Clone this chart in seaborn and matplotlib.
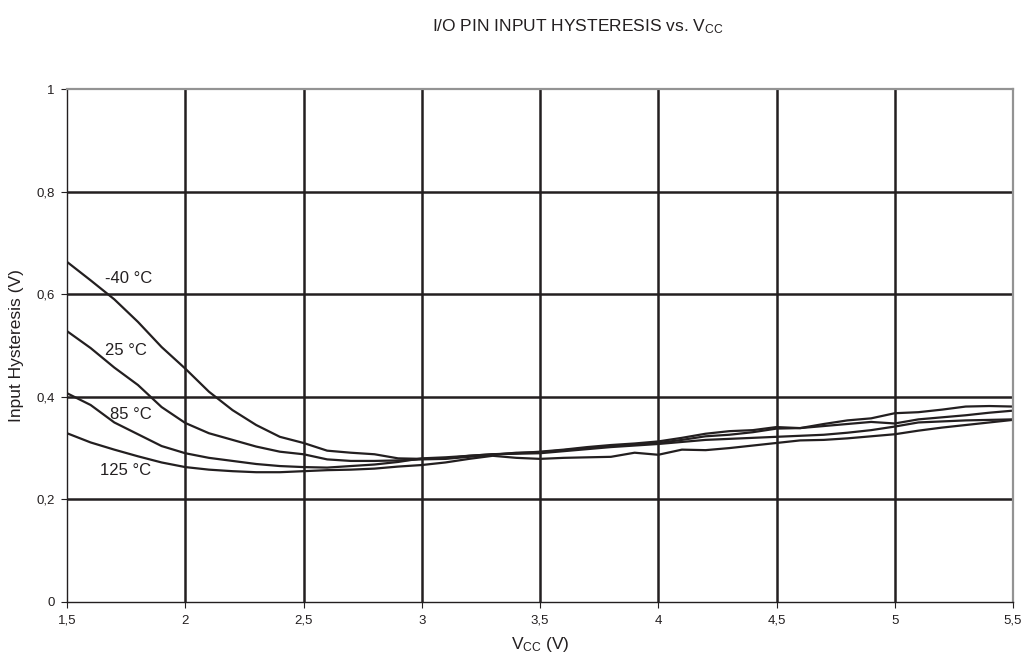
import numpy as np
import pandas as pd
import seaborn as sns
import matplotlib
matplotlib.use("Agg")
import matplotlib.pyplot as plt
from matplotlib.ticker import FuncFormatter

# supply voltage grid (V)
vcc = [1.5, 1.6, 1.7, 1.8, 1.9, 2.0, 2.1, 2.2, 2.3, 2.4,
       2.5, 2.6, 2.7, 2.8, 2.9, 3.0, 3.1, 3.2, 3.3, 3.4,
       3.5, 3.6, 3.7, 3.8, 3.9, 4.0, 4.1, 4.2, 4.3, 4.4,
       4.5, 4.6, 4.7, 4.8, 4.9, 5.0, 5.1, 5.2, 5.3, 5.4, 5.5]

# input hysteresis (V) per temperature
hyst_m40 = [0.663, 0.627, 0.590, 0.546, 0.497, 0.455, 0.410, 0.374, 0.345, 0.322,
            0.310, 0.295, 0.291, 0.288, 0.280, 0.279, 0.280, 0.285, 0.288, 0.290,
            0.293, 0.297, 0.302, 0.306, 0.309, 0.313, 0.320, 0.328, 0.333, 0.335,
            0.341, 0.339, 0.347, 0.354, 0.358, 0.368, 0.370, 0.375, 0.381, 0.382, 0.381]
hyst_25 = [0.528, 0.495, 0.457, 0.423, 0.380, 0.349, 0.329, 0.316, 0.303, 0.293,
           0.288, 0.278, 0.275, 0.275, 0.276, 0.278, 0.279, 0.283, 0.287, 0.291,
           0.292, 0.296, 0.300, 0.304, 0.307, 0.310, 0.316, 0.323, 0.326, 0.331,
           0.338, 0.339, 0.343, 0.347, 0.351, 0.348, 0.356, 0.360, 0.364, 0.369, 0.373]
hyst_85 = [0.407, 0.384, 0.350, 0.327, 0.304, 0.290, 0.281, 0.275, 0.269, 0.265,
           0.263, 0.262, 0.265, 0.268, 0.273, 0.280, 0.282, 0.285, 0.288, 0.289,
           0.290, 0.294, 0.298, 0.302, 0.305, 0.308, 0.312, 0.316, 0.318, 0.320,
           0.322, 0.324, 0.326, 0.330, 0.335, 0.342, 0.350, 0.352, 0.354, 0.355, 0.356]
hyst_125 = [0.329, 0.311, 0.297, 0.284, 0.272, 0.263, 0.258, 0.255, 0.253, 0.253,
            0.255, 0.257, 0.258, 0.260, 0.264, 0.267, 0.272, 0.279, 0.285, 0.281,
            0.279, 0.281, 0.282, 0.283, 0.291, 0.287, 0.297, 0.296, 0.300, 0.305,
            0.310, 0.315, 0.316, 0.319, 0.323, 0.327, 0.334, 0.340, 0.345, 0.350, 0.355]

temps = ["-40 °C", "25 °C", "85 °C", "125 °C"]
series = [hyst_m40, hyst_25, hyst_85, hyst_125]
label_pos = [(1.66, 0.63), (1.66, 0.491), (1.68, 0.365), (1.64, 0.257)]

xticks = [1.5, 2, 2.5, 3, 3.5, 4, 4.5, 5, 5.5]
yticks = [0, 0.2, 0.4, 0.6, 0.8, 1]

sns.set_theme(style="white")
plt.rcParams["font.family"] = ["Liberation Sans", "DejaVu Sans"]

ink = "#231f20"
fig = plt.figure(figsize=(10.35, 6.63), dpi=100)
ax = fig.add_axes([67 / 1035, 1 - 602 / 663, (1013 - 67) / 1035, (602 - 89) / 663])

for name, vals in zip(temps, series):
    df = pd.DataFrame({"vcc": vcc, "hyst": vals})
    sns.lineplot(data=df, x="vcc", y="hyst", color=ink, lw=1.6, ax=ax)

for name, (tx, ty) in zip(temps, label_pos):
    ax.text(tx, ty, name, fontsize=12, color=ink, va="center", ha="left")

ax.set_xlim(1.5, 5.5)
ax.set_ylim(0, 1)
ax.set_xticks(xticks)
ax.set_yticks(yticks)
fmt = FuncFormatter(lambda v, p: f"{v:g}".replace(".", ","))
ax.xaxis.set_major_formatter(fmt)
ax.yaxis.set_major_formatter(fmt)
ax.tick_params(axis="both", which="major", labelsize=9.5, colors=ink,
               direction="out", length=4, width=0.8, bottom=True, left=True, pad=5)

ax.grid(True, color=ink, lw=1.8)
for gl in ax.get_xgridlines()[:1] + ax.get_xgridlines()[-1:]:
    gl.set_visible(False)
for gl in ax.get_ygridlines()[:1] + ax.get_ygridlines()[-1:]:
    gl.set_visible(False)

for side in ["left", "bottom"]:
    ax.spines[side].set_color(ink)
    ax.spines[side].set_linewidth(1.0)
for side in ["top", "right"]:
    ax.spines[side].set_color("#939393")
    ax.spines[side].set_linewidth(1.6)

ax.set_xlabel(r"$\mathregular{V_{CC}}$ (V)", fontsize=12.5, color=ink, labelpad=6)
ax.set_ylabel("Input Hysteresis (V)", fontsize=12.5, color=ink, labelpad=9)

fig.text(578 / 1035, 1 - 27 / 663, r"I/O PIN INPUT HYSTERESIS vs. $\mathregular{V_{CC}}$",
         fontsize=12.5, color=ink, ha="center", va="center")

fig.savefig("out.png", dpi=100)
